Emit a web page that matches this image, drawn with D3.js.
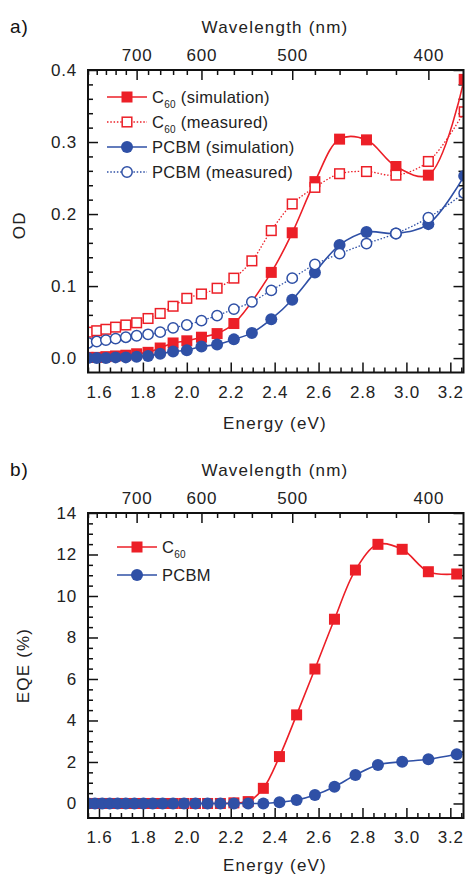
<!DOCTYPE html>
<html>
<head>
<meta charset="utf-8">
<script src="https://cdn.jsdelivr.net/npm/d3@7"></script>
<style>
  body { margin: 0; background: #fff; }
  svg { font-family: "Liberation Sans", Arial, sans-serif; }
</style>
</head>
<body>
<div id="chart"></div>
<script>
// Data
// panel a: absorption (OD), sampled every 20 nm
const wlA = [800, 780, 760, 740, 720, 700, 680, 660, 640, 620, 600, 580, 560, 540, 520, 500, 480, 460, 440, 420, 400, 380];
const c60SimOD  = [0.001, 0.001, 0.002, 0.003, 0.004, 0.006, 0.008, 0.014, 0.021, 0.024, 0.029, 0.034, 0.048, null, 0.119, 0.174, 0.245, 0.304, 0.303, 0.266, 0.254, 0.387];
const c60MeasOD = [0.036, 0.038, 0.040, 0.043, 0.046, 0.049, 0.055, 0.062, 0.072, 0.083, 0.089, 0.097, 0.111, 0.135, 0.177, 0.214, 0.237, 0.256, 0.259, 0.254, 0.273, 0.342];
const pcbmSimOD  = [0.000, 0.000, 0.000, 0.001, 0.001, 0.002, 0.003, 0.006, 0.009, 0.011, 0.016, 0.019, 0.026, 0.035, 0.054, 0.081, 0.119, 0.157, 0.175, 0.173, 0.186, 0.253];
const pcbmMeasOD = [0.021, 0.023, 0.025, 0.027, 0.029, 0.031, 0.033, 0.036, 0.042, 0.046, 0.052, 0.059, 0.068, 0.078, 0.094, 0.111, 0.130, 0.145, 0.159, 0.173, 0.195, 0.229];

// panel b: EQE (%), sampled every 16 nm
const wlB = [800, 784, 768, 752, 736, 720, 704, 688, 672, 656, 640, 624, 608, 592, 576, 560, 544, 528, 512, 496, 480, 464, 448, 432, 416, 400, 384];
const c60EQE  = [0, 0, 0, 0, 0, 0, 0, 0, 0, 0, 0, 0, 0, 0, 0, 0.03, 0.09, 0.73, 2.26, 4.27, 6.48, 8.88, 11.25, 12.49, 12.25, 11.17, 11.06];
const pcbmEQE = [0, 0, 0, 0, 0, 0, 0, 0, 0, 0, 0, 0, 0, 0, 0, 0, 0, 0, 0.06, 0.17, 0.41, 0.81, 1.37, 1.86, 2.01, 2.13, 2.37];

// ticks
const energyTicks = [1.6, 1.8, 2.0, 2.2, 2.4, 2.6, 2.8, 3.0, 3.2];
const wlTicks = [700, 600, 500, 400];
const wlMinor = [800, 780, 760, 740, 720, 680, 660, 640, 620, 580, 560, 540, 520, 480, 460, 440, 420];
const odTicks = [0.0, 0.1, 0.2, 0.3, 0.4];
const eqeTicks = [0, 2, 4, 6, 8, 10, 12, 14];

const red = "#ec1f27";
const blue = "#2f50a6";
const toEV = w => 1240 / w;

const W = 466, H = 874;
const left = 88, right = 463.5;

const svg = d3.select("#chart").append("svg")
  .attr("width", W)
  .attr("height", H);

const x = d3.scaleLinear().domain([1.55, 3.26]).range([left, right]);

// one panel: frame, axes, series, legend
function drawPanel(p) {
  const y = d3.scaleLinear().domain(p.yDomain).range([p.bottom, p.top]);
  const g = svg.append("g");

  g.append("clipPath").attr("id", "clip" + p.id)
    .append("rect")
      .attr("x", left).attr("y", p.top)
      .attr("width", right - left).attr("height", p.bottom - p.top);

  // bottom energy axis
  const xMinor = d3.range(1.55, 3.26, 0.05).filter(v => Math.abs(v * 5 - Math.round(v * 5)) > 0.01);
  g.append("g").attr("class", "ax")
    .attr("transform", `translate(0,${p.bottom})`)
    .call(d3.axisBottom(x).tickValues(energyTicks).tickFormat(d3.format(".1f")).tickSizeInner(-10).tickSizeOuter(0).tickPadding(13));
  g.append("g").attr("class", "ax")
    .attr("transform", `translate(0,${p.bottom})`)
    .call(d3.axisBottom(x).tickValues(xMinor).tickFormat("").tickSizeInner(-5).tickSizeOuter(0));

  // top wavelength axis
  g.append("g").attr("class", "ax")
    .attr("transform", `translate(0,${p.top})`)
    .call(d3.axisTop(x).tickValues(wlTicks.map(toEV)).tickFormat((d, i) => wlTicks[i]).tickSizeInner(-10).tickSizeOuter(0).tickPadding(9));
  g.append("g").attr("class", "ax")
    .attr("transform", `translate(0,${p.top})`)
    .call(d3.axisTop(x).tickValues(wlMinor.map(toEV)).tickFormat("").tickSizeInner(-5).tickSizeOuter(0));

  // left and right y axes
  g.append("g").attr("class", "ax")
    .attr("transform", `translate(${left},0)`)
    .call(d3.axisLeft(y).tickValues(p.yTicks).tickFormat(p.yFormat).tickSizeInner(-10).tickSizeOuter(0).tickPadding(11));
  g.append("g").attr("class", "ax")
    .attr("transform", `translate(${left},0)`)
    .call(d3.axisLeft(y).tickValues(p.yMinor).tickFormat("").tickSizeInner(-5).tickSizeOuter(0));
  g.append("g").attr("class", "ax")
    .attr("transform", `translate(${right},0)`)
    .call(d3.axisRight(y).tickValues(p.yTicks).tickFormat("").tickSizeInner(-10).tickSizeOuter(0));
  g.append("g").attr("class", "ax")
    .attr("transform", `translate(${right},0)`)
    .call(d3.axisRight(y).tickValues(p.yMinor).tickFormat("").tickSizeInner(-5).tickSizeOuter(0));

  g.selectAll(".ax .domain").remove();
  g.selectAll(".ax line").attr("stroke", "#111").attr("stroke-width", 1.5);
  g.selectAll(".ax text").attr("font-size", 17).attr("fill", "#222")
    .attr("letter-spacing", 0.8)
    .attr("font-family", "'Liberation Sans', Arial, sans-serif");

  // series
  const plot = g.append("g").attr("clip-path", `url(#clip${p.id})`);
  p.series.forEach(s => {
    const pts = s.values.map((v, i) => ({ e: toEV(s.wl[i]), v: v })).filter(d => d.v !== null);
    plot.append("path")
      .datum(pts)
      .attr("fill", "none")
      .attr("stroke", s.color)
      .attr("stroke-width", s.dotted ? 1.3 : 1.6)
      .attr("stroke-dasharray", s.dotted ? "1.5,1.8" : null)
      .attr("d", d3.line().x(d => x(d.e)).y(d => y(d.v)).curve(d3.curveCatmullRom.alpha(0.5)));
    drawMarkers(plot, pts.map(d => [x(d.e), y(d.v)]), s);
  });

  // legend
  p.series.forEach((s, i) => {
    const ly = p.legend.y + i * p.legend.dy;
    g.append("line")
      .attr("x1", p.legend.x).attr("x2", p.legend.x + 40)
      .attr("y1", ly).attr("y2", ly)
      .attr("stroke", s.color).attr("stroke-width", s.dotted ? 1.3 : 1.6)
      .attr("stroke-dasharray", s.dotted ? "1.5,1.8" : null);
    drawMarkers(g, [[p.legend.x + 20, ly]], s);
    const t = g.append("text")
      .attr("x", p.legend.x + 45).attr("y", ly + 6)
      .attr("font-size", 16.5).attr("fill", "#222")
      .attr("letter-spacing", 0.3);
    if (s.name.startsWith("C60")) {
      t.append("tspan").text("C");
      t.append("tspan").attr("font-size", 10).attr("dy", 5).text("60");
      t.append("tspan").attr("dy", -5).text(s.name.slice(3));
    } else {
      t.text(s.name);
    }
  });

  // frame
  g.append("rect")
    .attr("x", left).attr("y", p.top)
    .attr("width", right - left).attr("height", p.bottom - p.top)
    .attr("fill", "none").attr("stroke", "#111").attr("stroke-width", 2);

  // titles
  g.append("text")
    .attr("x", 275).attr("y", p.top - 37)
    .attr("text-anchor", "middle").attr("font-size", 17).attr("fill", "#222")
    .attr("letter-spacing", 1.2)
    .text("Wavelength (nm)");
  g.append("text")
    .attr("x", 275).attr("y", p.bottom + p.xLabelGap)
    .attr("text-anchor", "middle").attr("font-size", 17).attr("fill", "#222")
    .attr("letter-spacing", 1.2)
    .text("Energy (eV)");
  g.append("text")
    .attr("transform", `translate(${p.yLabelX},${(p.top + p.bottom) / 2 + p.yLabelShift}) rotate(-90)`)
    .attr("text-anchor", "middle").attr("font-size", 17).attr("fill", "#222")
    .attr("letter-spacing", 1.2)
    .text(p.yLabel);
  g.append("text")
    .attr("x", 10).attr("y", p.top - 37)
    .attr("font-size", 19).attr("fill", "#111")
    .attr("letter-spacing", 1)
    .text(p.id + ")");
}

function drawMarkers(sel, xy, s) {
  const fill = s.filled ? s.color : "#fff";
  if (s.shape === "square") {
    const h = s.filled ? 5.5 : 4.8;
    sel.selectAll(null).data(xy).join("rect")
      .attr("x", d => d[0] - h)
      .attr("y", d => d[1] - h)
      .attr("width", 2 * h).attr("height", 2 * h)
      .attr("fill", fill)
      .attr("stroke", s.filled ? "none" : s.color).attr("stroke-width", 1.5);
  } else {
    sel.selectAll(null).data(xy).join("circle")
      .attr("cx", d => d[0]).attr("cy", d => d[1])
      .attr("r", s.filled ? 6 : 5.2)
      .attr("fill", fill)
      .attr("stroke", s.filled ? "none" : s.color).attr("stroke-width", 1.5);
  }
}

drawPanel({
  id: "a",
  top: 70, bottom: 372.5,
  yDomain: [-0.02, 0.4],
  yTicks: odTicks,
  yMinor: d3.range(0, 0.401, 0.02).filter(v => Math.abs(v * 10 - Math.round(v * 10)) > 0.01),
  yFormat: d3.format(".1f"),
  yLabel: "OD", yLabelX: 25, yLabelShift: 4,
  xLabelGap: 56,
  legend: { x: 107, y: 97, dy: 25 },
  series: [
    { name: "C60 (simulation)", wl: wlA, values: c60SimOD, color: red, shape: "square", filled: true },
    { name: "C60 (measured)", wl: wlA, values: c60MeasOD, color: red, shape: "square", filled: false, dotted: true },
    { name: "PCBM (simulation)", wl: wlA, values: pcbmSimOD, color: blue, shape: "circle", filled: true },
    { name: "PCBM (measured)", wl: wlA, values: pcbmMeasOD, color: blue, shape: "circle", filled: false, dotted: true }
  ]
});

drawPanel({
  id: "b",
  top: 513, bottom: 818,
  yDomain: [-0.7, 14],
  yTicks: eqeTicks,
  yMinor: d3.range(0, 14.01, 0.5).filter(v => v % 2 !== 0),
  yFormat: d3.format("d"),
  yLabel: "EQE (%)", yLabelX: 29, yLabelShift: 0,
  xLabelGap: 53,
  legend: { x: 117, y: 547, dy: 28 },
  series: [
    { name: "C60", wl: wlB, values: c60EQE, color: red, shape: "square", filled: true },
    { name: "PCBM", wl: wlB, values: pcbmEQE, color: blue, shape: "circle", filled: true }
  ]
});
</script>
</body>
</html>
